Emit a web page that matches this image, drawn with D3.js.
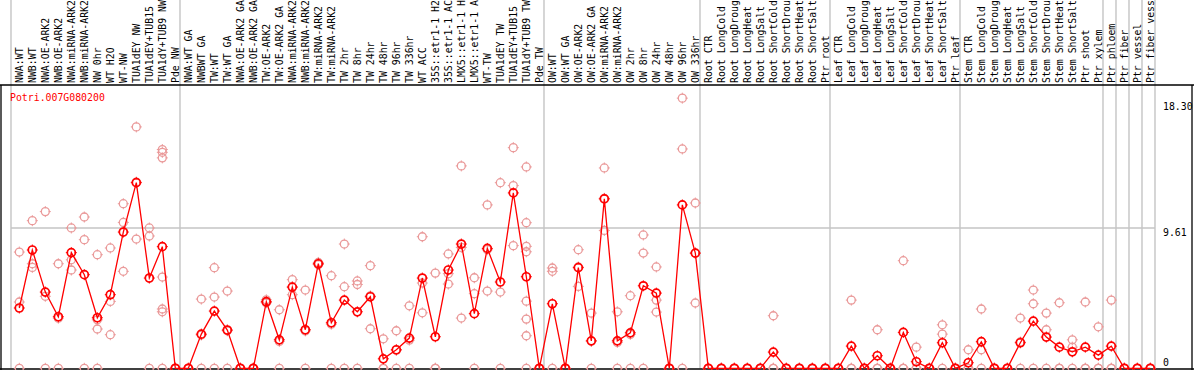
<!DOCTYPE html>
<html>
<head>
<meta charset="utf-8">
<script src="https://cdn.jsdelivr.net/npm/d3@7"></script>
<style>
  html, body { margin: 0; padding: 0; background: #fff; }
  svg { display: block; }
  text { font-family: "DejaVu Sans Mono", monospace; font-size: 9.85px; }
</style>
</head>
<body>
<svg id="chart" width="1194" height="370"></svg>
<script>
const title = "Potri.007G080200";

const categories = [
  "NWA:WT","NWB:WT","NWA:OE-ARK2","NWB:OE-ARK2","NWA:miRNA-ARK2","NWB:miRNA-ARK2","NW 0hr","WT H2O","WT-NW","TUA1dEY NW","TUA1dEY+TUB15 NW","TUA1dY+TUB9 NW","Pde NW",
  "NWA:WT GA","NWBWT GA","TW:WT","TW:WT GA","NWA:OE-ARK2 GA","NWB:OE-ARK2 GA","TW:OE-ARK2","TW:OE-ARK2 GA","NWA:miRNA-ARK2","NWB:miRNA-ARK2","TW:miRNA-ARK2","TW:miRNA-ARK2","TW 2hr","TW 8hr","TW 24hr","TW 48hr","TW 96hr","TW 336hr","WT ACC","35S::etr1-1 H2O","35S::etr1-1 ACC","LMX5::etr1-1 H2O","LMX5::etr1-1 ACC","WT-TW","TUA1dEY TW","TUA1dEY+TUB15 TW","TUA1dY+TUB9 TW","Pde TW",
  "OW:WT","OW:WT GA","OW:OE-ARK2","OW:OE-ARK2 GA","OW:miRNA-ARK2","OW:miRNA-ARK2","OW 2hr","OW 8hr","OW 24hr","OW 48hr","OW 96hr","OW 336hr",
  "Root CTR","Root LongCold","Root LongDrought","Root LongHeat","Root LongSalt","Root ShortCold","Root ShortDrought","Root ShortHeat","Root ShortSalt","Ptr root",
  "Leaf CTR","Leaf LongCold","Leaf LongDrought","Leaf LongHeat","Leaf LongSalt","Leaf ShortCold","Leaf ShortDrought","Leaf ShortHeat","Leaf ShortSalt","Ptr leaf",
  "Stem CTR","Stem LongCold","Stem LongDrought","Stem LongHeat","Stem LongSalt","Stem ShortCold","Stem ShortDrought","Stem ShortHeat","Stem ShortSalt","Ptr shoot","Ptr xylem",
  "Ptr phloem","Ptr fiber","Ptr vessel","Ptr fiber vessel"
];
const labelMaxChars = 14;

const groupSizes = [13, 28, 12, 10, 10, 11, 1, 1, 1, 1];

const means = [
  4.13,8.10,5.22,3.53,7.92,6.41,3.46,5.04,9.33,12.71,6.18,8.33,0,
  0,2.34,3.92,2.62,0,0,4.56,1.95,5.56,2.64,7.16,3.12,4.67,3.87,4.90,0.65,1.27,2.07,6.18,2.16,6.73,8.51,3.74,8.21,5.91,12.01,6.27,0,
  4.42,0,6.89,1.88,11.60,1.88,2.43,5.65,5.15,0,11.19,7.89,
  0,0,0,0,0,1.11,0,0,0,0,
  0,1.52,0,0.86,0,2.46,0.45,0,1.75,0,
  0.38,1.82,0,0,1.75,3.23,2.14,1.45,1.13,1.45,0.90,
  1.52,0,0,0
];

const reps = [
  [7.96,4.54,0],[10.11,7.16,6.91],[10.73,4.93,0],[7.16,3.43,0],[9.61,7.43,6.73],[10.36,8.81,0],[7.78,3.32,2.69,0],[8.24,4.58,2.30],[11.27,9.99,6.64],[16.53,12.75,8.85],[9.61,9.06,0],[14.98,14.79,14.41,6.25,4.06,3.87,0],[0,0,0],
  [0,0,0],[4.74,2.28,0],[6.89,4.88,0],[5.29,2.57,0],[0,0,0],[0,0,0],[4.69,4.50,4.49],[4.01,1.84,0],[6.07,5.57,5.04],[5.36,2.56,0],[7.25,7.13,7.10],[6.34,3.02,0],[8.51,5.59,0],[5.98,5.74,0],[7.03,4.96,2.71],[2.02,0,0],[2.57,1.24,0],[4.28,1.93,0],[9.01,5.84,3.80],[6.52,0,0],[7.83,6.48,5.77],[13.86,8.28,3.44],[6.20,5.11,0],[11.19,8.12,5.29],[12.71,5.22,0],[15.11,12.51,8.40],[13.79,9.97,8.35,7.98,4.60,3.37,2.23,0],[0,0,0],
  [6.87,6.64,0],[0,0,0],[8.12,6.94,5.61],[3.78,1.86,0],[13.72,11.64,9.44],[3.87,1.77,0],[4.97,2.32,0],[9.13,7.89,0],[6.94,4.67,3.85],[0,0,0],[18.5,15.02,0],[11.32,7.88,4.47],
  [0,0,0],[0,0,0],[0,0,0],[0,0,0],[0,0,0],[3.60,0,0],[0,0,0],[0,0,0],[0,0,0],[0,0,0],
  [0,0,0],[4.67,0,0],[0,0,0],[2.64,0,0],[0,0,0],[7.37,0,0],[1.45,0,0],[0,0,0],[2.98,2.34,0],[0,0,0],
  [1.27,0,0],[4.06,1.27,0],[0,0,0],[0,0,0],[3.44,1.80,0],[5.36,4.42,0],[3.78,2.64,0],[4.49,0,0],[1.95,1.45,0],[4.54,0,0],[2.84,0,0],
  [4.67,0,0],[0,0,0],[0,0,0],[0,0,0]
];

const yTicks = [0, 9.61, 18.30];
const yTickLabels = ["0", "9.61", "18.30"];
const yGrid = [9.61];

const W = 1194, H = 370;
const plotLeft = 11, plotRight = 1155, plotTop = 85, plotBottom = 368.3;
const svg = d3.select("#chart");

const x = d3.scaleBand().domain(d3.range(categories.length)).range([plotLeft, plotRight]).padding(0);
const y = d3.scaleLinear().domain([0, 19.40]).range([plotBottom, plotTop]);
const cx = i => x(i) + x.bandwidth() * 0.64;

// group boundaries
const bounds = [0];
groupSizes.forEach(s => bounds.push(bounds[bounds.length - 1] + s));
const bx = b => b < categories.length ? x(b) : x(categories.length - 1) + x.bandwidth();

svg.append("g").selectAll("line").data(bounds).join("line")
  .attr("x1", b => bx(b)).attr("x2", b => bx(b))
  .attr("y1", 0).attr("y2", plotBottom)
  .attr("stroke", "#c4c4c4").attr("stroke-width", 1.4);

svg.append("g").selectAll("line").data(yGrid).join("line")
  .attr("x1", plotLeft).attr("x2", plotRight)
  .attr("y1", d => y(d)).attr("y2", d => y(d))
  .attr("stroke", "#c4c4c4").attr("stroke-width", 1.4);

// frame
svg.append("line").attr("x1", 0).attr("x2", W).attr("y1", plotTop).attr("y2", plotTop).attr("stroke", "#000").attr("stroke-width", 1.3);
svg.append("line").attr("x1", 0).attr("x2", W).attr("y1", plotBottom + 0.7).attr("y2", plotBottom + 0.7).attr("stroke", "#000").attr("stroke-width", 1.6);
svg.append("line").attr("x1", 1).attr("x2", 1).attr("y1", plotTop).attr("y2", H).attr("stroke", "#000").attr("stroke-width", 1.3);
svg.append("line").attr("x1", 1192).attr("x2", 1192).attr("y1", plotTop).attr("y2", H).attr("stroke", "#000").attr("stroke-width", 1.3);

// category labels (the chart shows at most 14 characters of each)
svg.append("g").selectAll("text").data(categories).join("text")
  .attr("transform", (d, i) => `translate(${cx(i) + 3.3},83) rotate(-90)`)
  .attr("text-anchor", "start")
  .attr("fill", "#000")
  .text(d => d.slice(0, labelMaxChars));

// title
svg.append("text").attr("x", 10).attr("y", 100.5).attr("fill", "#ff0000").text(title);

// y tick labels on right
svg.append("g").selectAll("text").data(yTicks).join("text")
  .attr("x", 1163)
  .attr("y", (d, i) => d === 0 ? y(d) - 2.5 : y(d) + 8.5)
  .attr("fill", "#000")
  .text((d, i) => yTickLabels[i]);

const r = 4;
function tickPath(px, py) {
  return `M${px},${py - r - 1.5}v2.2M${px},${py + r - 0.7}v2.2M${px - r - 1.5},${py}h2.2M${px + r - 0.7},${py}h2.2`;
}

// replicate points
const repPts = [];
reps.forEach((arr, i) => arr.forEach(v => repPts.push({ i, v })));
const gRep = svg.append("g");
gRep.selectAll("circle").data(repPts).join("circle")
  .attr("cx", d => cx(d.i)).attr("cy", d => y(d.v)).attr("r", r)
  .attr("fill", "none").attr("stroke", "#ea9a9a").attr("stroke-width", 1.3);
gRep.selectAll("path").data(repPts).join("path")
  .attr("d", d => tickPath(cx(d.i), y(d.v)))
  .attr("stroke", "#ea9a9a").attr("stroke-width", 1);

// mean line
const line = d3.line().x((d, i) => cx(i)).y(d => y(d));
svg.append("path").datum(means).attr("d", line)
  .attr("fill", "none").attr("stroke", "#ff0000").attr("stroke-width", 1.3);

// mean markers
const gMean = svg.append("g");
gMean.selectAll("circle").data(means).join("circle")
  .attr("cx", (d, i) => cx(i)).attr("cy", d => y(d)).attr("r", r)
  .attr("fill", "none").attr("stroke", "#ff0000").attr("stroke-width", 1.7);
gMean.selectAll("path").data(means).join("path")
  .attr("d", (d, i) => tickPath(cx(i), y(d)))
  .attr("stroke", "#ff0000").attr("stroke-width", 1);
</script>
</body>
</html>
